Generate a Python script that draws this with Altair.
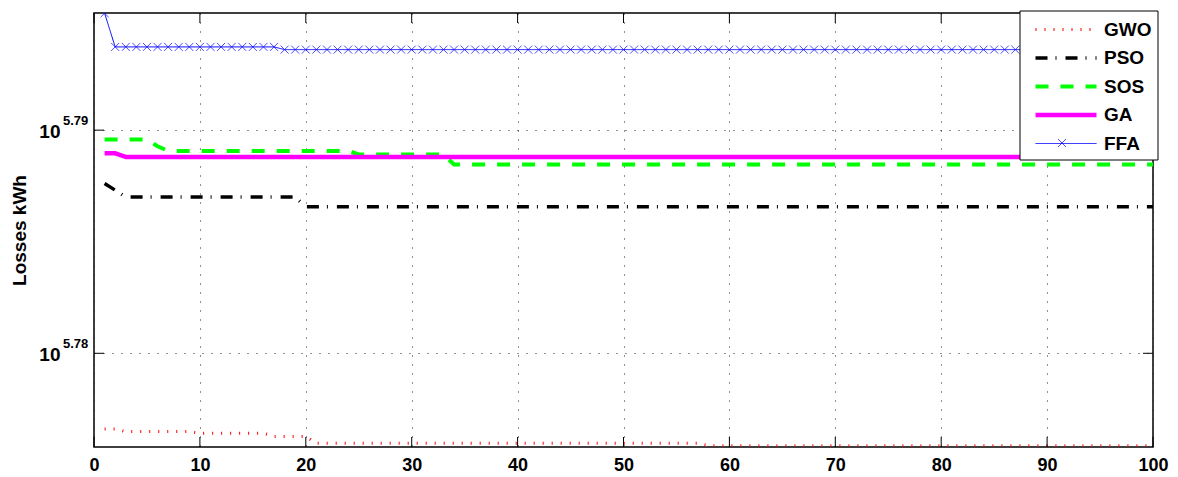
import altair as alt
import pandas as pd

# ---- data (log10 of losses in kWh) ----
methods = ["GWO", "PSO", "SOS", "GA", "FFA"]
iterations = list(range(1, 101))

gwo = [5.77661] * 2 + [5.77649] * 7 + [5.77642] * 7 + [5.77627] * 4 + [5.77597] * 37 + [5.77586] * 43
pso = [5.78761, 5.78731] + [5.78700] * 17 + [5.78657] * 81
sos = [5.78958] * 5 + [5.78928] + [5.78907] * 18 + [5.78891] * 9 + [5.78846] * 67
ga = [5.78896] * 2 + [5.78880] * 98
ffa = [5.79524] + [5.79373] * 16 + [5.79361] * 83

x_ticks = [0, 10, 20, 30, 40, 50, 60, 70, 80, 90, 100]
y_ticks = [5.78, 5.79]
y_tick_exponents = ["5.78", "5.79"]

colors = ["#ff0000", "#000000", "#00ff00", "#ff00ff", "#0000ff"]
dashes = [[1, 8], [12, 8, 1, 9], [13, 12], [1, 0], [1, 0]]
widths = [3, 3.5, 4, 4.5, 1]

series = {"GWO": gwo, "PSO": pso, "SOS": sos, "GA": ga, "FFA": ffa}
rows = []
for m in methods:
    for it, v in zip(iterations, series[m]):
        rows.append({"iteration": it, "logloss": v, "method": m})
df = pd.DataFrame(rows)

W, H = 1059, 434
FONT = "Liberation Sans"

xscale = alt.Scale(domain=[0, 100], nice=False, zero=False)
yscale = alt.Scale(domain=[5.7758, 5.79525], nice=False, zero=False)

x_axis = alt.Axis(values=x_ticks, title=None, grid=True, ticks=False, domain=False,
                  labelPadding=9, labelFlush=False)
y_axis = alt.Axis(values=y_ticks, title="Losses kWh", grid=True, ticks=False, domain=False,
                  labelExpr="'10'", labelFontSize=19, labelPadding=34, labelOffset=1,
                  titlePadding=9)

lines = alt.Chart(df).mark_line(clip=True, strokeCap="butt").encode(
    x=alt.X("iteration:Q", scale=xscale, axis=x_axis),
    y=alt.Y("logloss:Q", scale=yscale, axis=y_axis),
    color=alt.Color("method:N", scale=alt.Scale(domain=methods, range=colors),
                    legend=alt.Legend(title=None)),
    strokeDash=alt.StrokeDash("method:N", scale=alt.Scale(domain=methods, range=dashes),
                              legend=alt.Legend(title=None)),
    strokeWidth=alt.StrokeWidth("method:N", scale=alt.Scale(type="ordinal", domain=methods, range=widths),
                                legend=alt.Legend(title=None)),
    order="iteration:Q",
)

ffa_points = alt.Chart(df).transform_filter(alt.datum.method == "FFA").mark_point(
    shape="M-1,-1L1,1M-1,1L1,-1", size=64, filled=False, color="#0000ff", strokeWidth=1, clip=True
).encode(
    x=alt.X("iteration:Q", scale=xscale, axis=x_axis),
    y=alt.Y("logloss:Q", scale=yscale, axis=y_axis),
)

# inward tick marks (MATLAB style)
xt = pd.DataFrame({"iteration": x_ticks})
yt = pd.DataFrame({"logloss": y_ticks, "e": y_tick_exponents})
tick_bottom = alt.Chart(xt).mark_rule(color="#000", strokeWidth=1).encode(
    x=alt.X("iteration:Q", scale=xscale, axis=x_axis), y=alt.value(H), y2=alt.value(H - 10))
tick_top = alt.Chart(xt).mark_rule(color="#000", strokeWidth=1).encode(
    x=alt.X("iteration:Q", scale=xscale, axis=x_axis), y=alt.value(0), y2=alt.value(10))
tick_left = alt.Chart(yt).mark_rule(color="#000", strokeWidth=1).encode(
    y=alt.Y("logloss:Q", scale=yscale, axis=y_axis), x=alt.value(0), x2=alt.value(10))
tick_right = alt.Chart(yt).mark_rule(color="#000", strokeWidth=1).encode(
    y=alt.Y("logloss:Q", scale=yscale, axis=y_axis), x=alt.value(W), x2=alt.value(W - 10))

# superscript exponents for the y tick labels
exponents = alt.Chart(yt).mark_text(
    align="left", baseline="alphabetic", dy=-5, font=FONT, fontSize=13, fontWeight="bold", color="#000"
).encode(
    y=alt.Y("logloss:Q", scale=yscale, axis=y_axis), x=alt.value(-31), text="e:N")

# legend box (white, framed) drawn under the legend entries, plus the 'x' of the FFA entry
legend_box = alt.Chart(pd.DataFrame({"m": ["box"]})).mark_rect(
    fill="#ffffff", stroke="#000000", strokeWidth=1
).encode(x=alt.value(926), x2=alt.value(1064), y=alt.value(-2), y2=alt.value(147))

legend_marker = alt.Chart(pd.DataFrame({"m": ["FFA"]})).mark_point(
    shape="M-1,-1L1,1M-1,1L1,-1", size=64, filled=False, color="#0000ff", strokeWidth=1
).encode(x=alt.value(968), y=alt.value(130))

chart = alt.layer(lines, ffa_points, tick_bottom, tick_top, tick_left, tick_right, exponents,
                  legend_box, legend_marker).properties(
    width=W, height=H,
    autosize=alt.AutoSizeParams(type="none"),
    padding={"left": 86, "top": 5, "right": 16, "bottom": 28},
).configure_view(
    stroke="#000", strokeWidth=1.5
).configure_axis(
    labelFont=FONT, labelFontSize=18, labelFontWeight="bold", labelColor="#000",
    titleFont=FONT, titleFontSize=19, titleFontWeight="bold", titleColor="#000",
    gridDash=[1, 8], gridColor="#222", gridWidth=1, gridOpacity=1,
).configure_legend(
    orient="none", legendX=927, legendY=-3,
    symbolType="M-1,0L11.2,0", symbolSize=100, labelFont=FONT, labelFontSize=19, labelFontWeight="bold",
    labelColor="#000", labelOffset=54, padding=10, rowPadding=8.5,
    strokeColor="transparent", fillColor="transparent", cornerRadius=0, symbolOpacity=1,
)

chart.save("out.html", embed_options={"renderer": "svg", "actions": False})
